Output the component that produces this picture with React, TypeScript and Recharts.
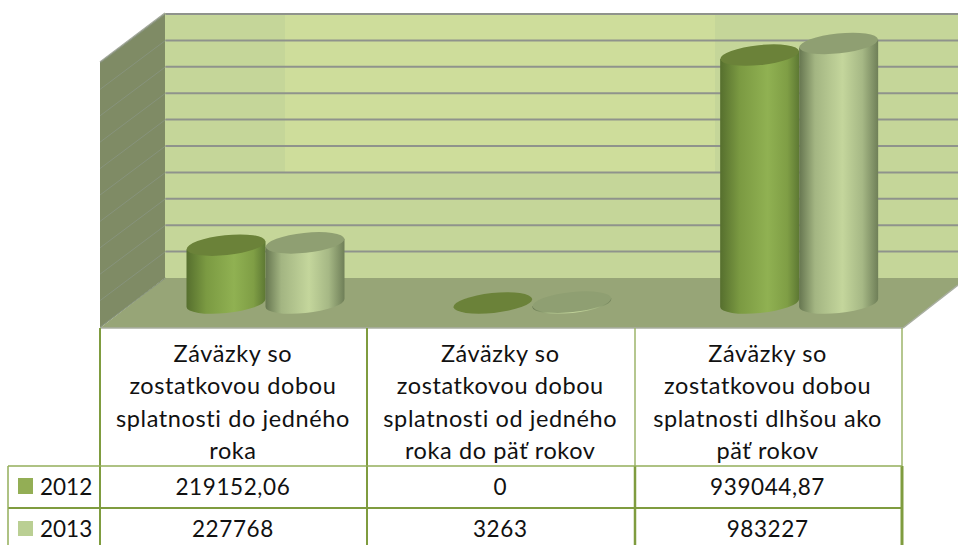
import { BarChart, Bar, XAxis, YAxis, CartesianGrid } from 'recharts';

const categoryLines = [
  ['Záväzky so', 'zostatkovou dobou', 'splatnosti do jedného', 'roka'],
  ['Záväzky so', 'zostatkovou dobou', 'splatnosti od jedného', 'roka do päť rokov'],
  ['Záväzky so', 'zostatkovou dobou', 'splatnosti dlhšou ako', 'päť rokov'],
];
const categories = ['do jedného roka', 'od jedného roka do päť rokov', 'dlhšou ako päť rokov'];
const values2012 = [219152.06, 0, 939044.87];
const values2013 = [227768, 3263, 983227];
const yTicks = [0, 100000, 200000, 300000, 400000, 500000, 600000, 700000, 800000, 900000, 1000000];

const data = categories.map((name, i) => ({
  name,
  y2012: values2012[i],
  y2013: values2013[i],
}));

const WIDTH = 958;
const HEIGHT = 545;
const FONT = 'Lato, sans-serif';
const FONT_SIZE = 22.5;
const TABLE_LINE = '#7f9c3f';
const DEPTH_X = 33;
const DEPTH_Y = 25;

const fmt = (v: number) => String(v).replace('.', ',');

function Cylinder(props: any) {
  const { x, y, width, height, gradient, topFill } = props;
  const rx = width / 2;
  const ry = 10;
  const tilt = 4;
  const cx = x + rx;
  const bottom = y + height;
  const body = `M${x},${y + tilt} L${x},${bottom + tilt} A${rx},${ry} -6 0 0 ${x + width},${bottom - tilt} L${x + width},${y - tilt} Z`;
  return (
    <g>
      {height > 0 && <path d={body} fill={`url(#${gradient})`} />}
      <ellipse cx={cx} cy={y} rx={rx} ry={ry} fill={topFill} transform={`rotate(-6 ${cx} ${y})`} />
    </g>
  );
}

function TableTick(props: any) {
  const { x, index } = props;
  const cx = x - DEPTH_X + index * 0.5;
  const common = { x: cx, textAnchor: 'middle' as const, fontFamily: FONT, fill: '#111' };
  return (
    <g>
      {categoryLines[index].map((line, i) => (
        <text key={line} {...common} fontSize={23.5} letterSpacing={0.6} y={362 + i * 32.4}>{line}</text>
      ))}
      <text {...common} fontSize={FONT_SIZE} letterSpacing={0.6} y={495}>{fmt(values2012[index])}</text>
      <text {...common} fontSize={FONT_SIZE} letterSpacing={0.6} y={537}>{fmt(values2013[index])}</text>
    </g>
  );
}

function WallGridLine(props: any) {
  const { y1, x1, index } = props;
  const y = y1 - DEPTH_Y;
  const wallX = x1 + DEPTH_X;
  return (
    <g key={index}>
      <line x1={100} y1={y + 49} x2={wallX} y2={y} stroke="#87937c" strokeWidth={1} />
      {y < 270 && <line x1={wallX} y1={y} x2={WIDTH} y2={y} stroke="#8f938c" strokeWidth={2} />}
    </g>
  );
}

export default function App() {
  return (
    <div style={{ position: 'absolute', left: 0, top: 0, width: WIDTH, height: HEIGHT, overflow: 'hidden', background: '#fff' }}>
      {/* walls and floor sit under the chart */}
      <svg width={WIDTH} height={HEIGHT} style={{ position: 'absolute', left: 0, top: 0 }}>
        <rect x={165} y={13} width={793} height={265} fill="#c5d699" />
        <rect x={285} y={13} width={430} height={159} fill="#cedd9b" />
        <polygon points="100,62 165,13 165,278 100,328" fill="#7f8b65" />
        <polygon points="100,328 165,278 958,278 958,285 903,328" fill="#97a577" />
        <line x1={100} y1={328} x2={903} y2={328} stroke="#a8aea0" strokeWidth={1.5} />
        <line x1={903} y1={328} x2={958} y2={285} stroke="#a8aea0" strokeWidth={1.5} />
        <line x1={100} y1={62} x2={165} y2={13} stroke="#a3a89b" strokeWidth={1.5} />
      </svg>
      <div style={{ position: 'absolute', left: 0, top: 0 }}>
        <BarChart
          width={WIDTH}
          height={HEIGHT}
          data={data}
          margin={{ top: 39, right: 25, bottom: 0, left: 132.5 }}
          barSize={79}
          barGap={0}
        >
          <defs>
            <linearGradient id="cyl2012" x1="0" y1="0" x2="1" y2="0">
              <stop offset="0" stopColor="#566f2e" />
              <stop offset="0.25" stopColor="#7b9a42" />
              <stop offset="0.6" stopColor="#90b152" />
              <stop offset="0.85" stopColor="#7f9e45" />
              <stop offset="1" stopColor="#5d7833" />
            </linearGradient>
            <linearGradient id="cyl2013" x1="0" y1="0" x2="1" y2="0">
              <stop offset="0" stopColor="#667650" />
              <stop offset="0.2" stopColor="#a3b582" />
              <stop offset="0.55" stopColor="#c4d69c" />
              <stop offset="0.8" stopColor="#a6b885" />
              <stop offset="1" stopColor="#6f7f58" />
            </linearGradient>
          </defs>

          <CartesianGrid vertical={false} horizontal={(p: any) => <WallGridLine {...p} />} />

          <XAxis dataKey="name" axisLine={false} tickLine={false} height={242} interval={0} tick={(p: any) => <TableTick {...p} />} />
          <YAxis hide domain={[0, 1000000]} ticks={yTicks} />

          <Bar
            dataKey="y2012"
            isAnimationActive={false}
            shape={(p: any) => <Cylinder {...p} gradient="cyl2012" topFill="#6b8239" />}
          />
          <Bar
            dataKey="y2013"
            isAnimationActive={false}
            shape={(p: any) => <Cylinder {...p} gradient="cyl2013" topFill="#8f9f72" />}
          />

          {/* data table grid */}
          <g stroke={TABLE_LINE} fill="none">
            <line x1={100} y1={328} x2={100} y2={545} strokeWidth={2} />
            <line x1={367} y1={328} x2={367} y2={545} strokeWidth={2} />
            <line x1={635} y1={328} x2={635} y2={466} strokeWidth={1.5} stroke="#9db56a" />
            <line x1={635} y1={466} x2={635} y2={545} strokeWidth={2.5} />
            <line x1={902} y1={328} x2={902} y2={466} strokeWidth={1.5} stroke="#9db56a" />
            <line x1={902} y1={466} x2={902} y2={545} strokeWidth={3} />
            <line x1={8} y1={466} x2={902} y2={466} strokeWidth={1.5} stroke="#93ae5a" />
            <line x1={8} y1={508} x2={902} y2={508} strokeWidth={2} />
            <line x1={8} y1={466} x2={8} y2={545} strokeWidth={1.5} stroke="#93ae5a" />
          </g>
          <rect x={18} y={478} width={15} height={16} fill="#93ae55" />
          <rect x={18} y={521} width={15} height={15} fill="#bacf93" />
          <text x={40} y={495} fontFamily={FONT} fontSize={FONT_SIZE} fill="#111">2012</text>
          <text x={40} y={537} fontFamily={FONT} fontSize={FONT_SIZE} fill="#111">2013</text>
        </BarChart>
      </div>
    </div>
  );
}
